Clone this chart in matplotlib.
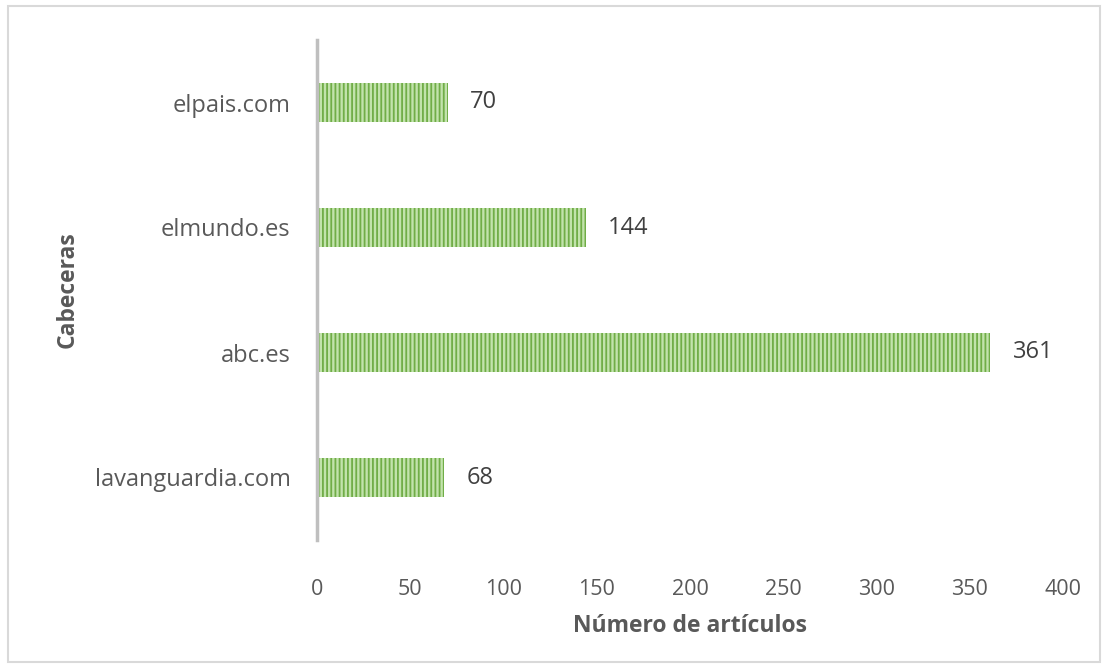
import matplotlib.pyplot as plt
from matplotlib.patches import Rectangle

plt.rcParams['font.family'] = ['Open Sans', 'DejaVu Sans']
plt.rcParams['hatch.linewidth'] = 1.3
plt.rcParams['hatch.color'] = '#70ad47'

cabeceras = ['lavanguardia.com', 'abc.es', 'elmundo.es', 'elpais.com']
articulos = [68, 361, 144, 70]

fig = plt.figure(figsize=(11.08, 6.7), dpi=100)
fig.patches.append(Rectangle((8 / 1108, 8 / 670), 1092 / 1108, 656 / 670,
                             transform=fig.transFigure, fill=False,
                             edgecolor='#d9d9d9', linewidth=1.5))
ax = fig.add_axes([317 / 1108, 1 - 540 / 670, 746 / 1108, 500 / 670])

ax.barh(range(len(cabeceras)), articulos, height=0.31,
        color='#c2e3ac', edgecolor='#70ad47', hatch='||||', linewidth=0)
for i, v in enumerate(articulos):
    ax.text(v + 12, i, str(v), va='center', ha='left', fontsize=17, color='#404040')

ax.set_xlim(0, 400)
ax.set_ylim(-0.5, 3.5)
ax.set_yticks(range(len(cabeceras)))
ax.set_yticklabels(cabeceras, fontsize=17)
ax.set_xticks(range(0, 401, 50))
ax.tick_params(axis='x', labelsize=15.5)
ax.tick_params(axis='both', length=0, labelcolor='#595959')
ax.tick_params(axis='y', pad=19)
ax.tick_params(axis='x', pad=28)
for s in ['top', 'right', 'bottom']:
    ax.spines[s].set_visible(False)
ax.spines['left'].set_color('#bfbfbf')
ax.spines['left'].set_linewidth(2.5)

ax.set_xlabel('Número de artículos', fontsize=16.5, fontweight='bold', color='#595959', labelpad=10)
ax.set_ylabel('Cabeceras', fontsize=16.5, fontweight='bold', color='#595959', labelpad=11)

fig.savefig('out.png', dpi=100)
